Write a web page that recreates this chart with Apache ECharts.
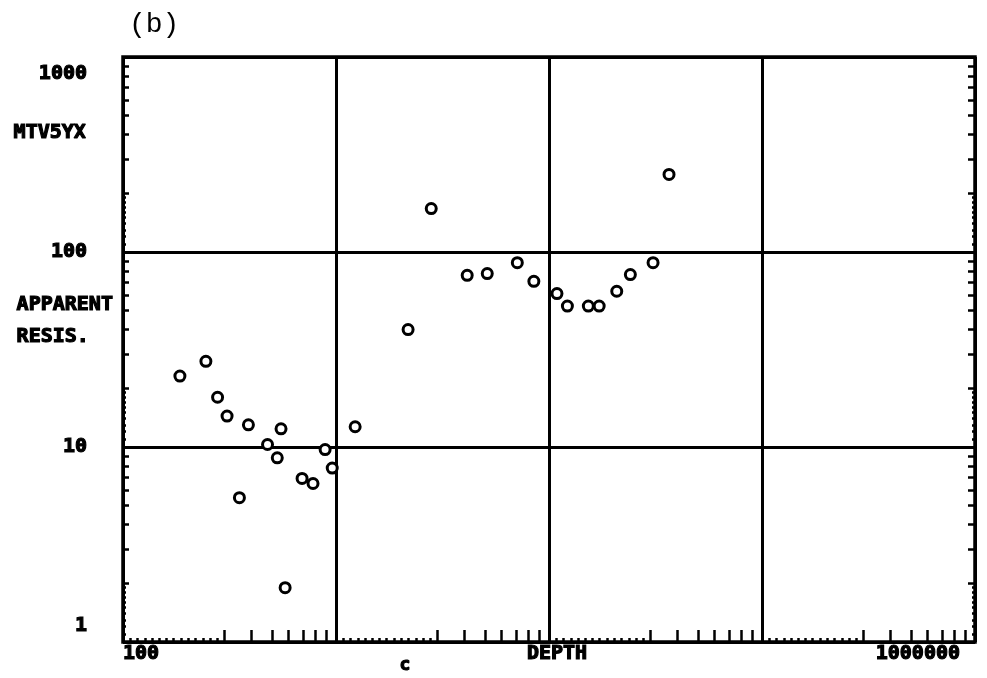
<!DOCTYPE html>
<html>
<head>
<meta charset="utf-8">
<script src="https://cdn.jsdelivr.net/npm/echarts@6/dist/echarts.min.js"></script>
<style>
  html, body { margin: 0; padding: 0; background: #fff; }
  #chart { width: 987px; height: 678px; }
</style>
</head>
<body>
<div id="chart"></div>
<script>
// depth vs apparent resistivity
const depth = [185, 245, 278, 308, 388, 552, 477, 530, 352, 577, 693, 780, 889, 960, 1230,
  2180, 2800, 4130, 5130, 7100, 8490, 10900, 12200, 15300, 17200, 20800, 24100, 30800, 36600];
const resis = [23.1, 27.5, 18.0, 14.4, 13.0, 12.4, 10.3, 8.8, 5.5, 1.9, 6.9, 6.5, 9.7, 7.8, 12.7,
  40.0, 167, 75.9, 77.5, 88.2, 70.7, 61.2, 52.8, 52.8, 52.8, 62.9, 76.6, 88.2, 250];

const xDecades = [100, 1000, 10000, 100000];
const yDecades = [1, 10, 100];
// tall / short tick multipliers inside each decade
const xTallMult = [3, 4, 5, 6, 7, 8, 9];
const xShortMult = [1.08, 1.17, 1.27, 1.37, 1.48, 1.6, 1.73, 1.87, 2.02, 2.19, 2.37, 2.56, 2.77];
const yTallMult = [2, 3, 4, 5, 6, 7, 8, 9];
const yShortMult = [1.1, 1.2, 1.3, 1.4, 1.5, 1.6, 1.7, 1.8, 1.9];

const FONT = '"DejaVu Sans Mono", monospace';
const X_MIN = 100, X_MAX = 1000000, Y_MIN = 1, Y_MAX = 1000;

const spread = (dec, mult) => dec.flatMap(d => mult.map(m => +(d * m).toPrecision(6)));

function tickAxis(pos, min, max, values, len) {
  return {
    type: 'log', position: pos, min, max,
    axisLine: { show: false },
    axisLabel: { show: false },
    splitLine: { show: false },
    axisTick: { show: true, inside: true, length: len, customValues: values,
      lineStyle: { color: '#000', width: 2.5 } },
  };
}

// heavy, blocky look of the plotter lettering
const lab = { fontFamily: FONT, fontWeight: 'bold', fontSize: 20, color: '#000',
  textBorderColor: '#000', textBorderWidth: 1.2 };
const heavy = (text, left, top, size = 20) => ({
  type: 'text', left, top,
  style: { text, font: `bold ${size}px ${FONT}`, fill: '#000', stroke: '#000', lineWidth: 1.2 },
});

const chart = echarts.init(document.getElementById('chart'));

chart.setOption({
  animation: false,
  backgroundColor: '#fff',
  grid: { left: 123, right: 12, top: 57, bottom: 36, show: true, borderColor: '#000', borderWidth: 3.5 },
  xAxis: [
    {
      type: 'log', position: 'bottom', min: X_MIN, max: X_MAX, splitNumber: 4,
      axisLine: { show: false }, axisTick: { show: false },
      splitLine: { show: true, lineStyle: { color: '#000', width: 3 } },
      axisLabel: {
        ...lab, margin: 2, alignMinLabel: 'left', alignMaxLabel: 'right',
        formatter: v => {
          const r = Math.round(v);
          if (r === 100) return '100';
          if (r === 10000) return '{mid|DEPTH}';
          if (r === 1000000) return '{end|1000000}';
          return '';
        },
        rich: {
          mid: { ...lab, padding: [0, 0, 0, 16] },
          end: { ...lab, padding: [0, 15, 0, 0] },
        },
      },
    },
    tickAxis('bottom', X_MIN, X_MAX, spread(xDecades, xTallMult), 12),
    tickAxis('bottom', X_MIN, X_MAX, spread(xDecades, xShortMult), 4),
  ],
  yAxis: [
    {
      type: 'log', position: 'left', min: Y_MIN, max: Y_MAX, splitNumber: 3,
      axisLine: { show: false }, axisTick: { show: false },
      splitLine: { show: true, lineStyle: { color: '#000', width: 3 } },
      axisLabel: {
        ...lab, margin: 36,
        formatter: v => {
          const r = Math.round(v);
          if (r === 1000) return '{hi|1000}';
          if (r === 1) return '{lo|1}';
          return String(r);
        },
        rich: {
          hi: { ...lab, padding: [34, 0, 0, 0] },
          lo: { ...lab, padding: [0, 0, 32, 0] },
        },
      },
    },
    tickAxis('left', Y_MIN, Y_MAX, spread(yDecades, yTallMult), 6),
    tickAxis('left', Y_MIN, Y_MAX, spread(yDecades, yShortMult), 3),
    tickAxis('right', Y_MIN, Y_MAX, spread(yDecades, yTallMult), 7),
    tickAxis('right', Y_MIN, Y_MAX, spread(yDecades, yShortMult), 3),
  ],
  graphic: [
    { type: 'text', left: 129, top: 11, style: { text: '(b)', font: '28px "Liberation Mono", monospace', fill: '#000' } },
    heavy('MTV5YX', 13, 122),
    heavy('APPARENT', 16, 294),
    heavy('RESIS.', 16, 326),
    heavy('c', 399, 656, 18),
  ],
  series: [{
    type: 'scatter',
    xAxisIndex: 0, yAxisIndex: 0,
    symbol: 'circle', symbolSize: 10,
    itemStyle: { color: '#fff', borderColor: '#000', borderWidth: 3, opacity: 1 },
    data: depth.map((d, i) => [d, resis[i]]),
  }],
});
</script>
</body>
</html>
